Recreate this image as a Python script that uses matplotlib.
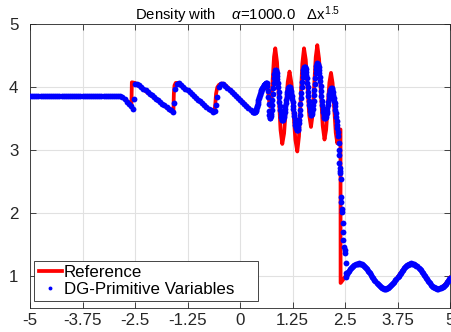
import numpy as np
import matplotlib
matplotlib.use("Agg")
import matplotlib.pyplot as plt
from matplotlib.lines import Line2D

# ---------------- data ----------------
# Reference solution (red line)
ref_x = [-5.0, -2.86, -2.80, -2.72, -2.65, -2.585, -2.575, -2.50, -1.60, -1.585,
         -1.575, -1.56, -1.53, -1.46, -0.64, -0.61, -0.59, -0.57, -0.54, -0.50,
         -0.44, -0.38, 0.22, 0.28, 0.33, 0.37, 0.40, 0.44, 0.48, 0.53,
         0.58, 0.636, 0.657, 0.679, 0.700, 0.721, 0.751, 0.781, 0.810, 0.840,
         0.882, 0.924, 0.965, 1.007, 1.050, 1.093, 1.136, 1.179, 1.225, 1.272,
         1.318, 1.364, 1.404, 1.444, 1.484, 1.524, 1.566, 1.607, 1.649, 1.690,
         1.728, 1.765, 1.803, 1.840, 1.883, 1.926, 1.969, 2.012, 2.051, 2.090,
         2.128, 2.167, 2.205, 2.242, 2.280, 2.317, 2.345, 2.370, 2.393, 2.395]
ref_y = [3.857, 3.857, 3.845, 3.80, 3.76, 3.72, 4.08, 4.07, 3.60, 3.62,
         3.90, 4.03, 4.07, 4.07, 3.60, 3.62, 3.72, 3.90, 4.00, 4.04,
         4.06, 4.055, 3.67, 3.62, 3.60, 3.62, 3.68, 3.80, 3.90, 3.98,
         4.04, 4.07, 4.014, 3.88, 3.746, 3.69, 3.826, 4.155, 4.484, 4.62,
         4.398, 3.86, 3.322, 3.10, 3.268, 3.675, 4.082, 4.25, 4.064, 3.615,
         3.166, 2.98, 3.22, 3.80, 4.38, 4.62, 4.437, 3.995, 3.553, 3.37,
         3.56, 4.02, 4.48, 4.67, 4.45, 3.92, 3.39, 3.17, 3.325, 3.70,
         4.075, 4.23, 4.066, 3.67, 3.274, 3.11, 3.25, 3.33, 3.33, 0.89]
# reference behind the shock (x = 2.40, 2.45, ..., 5.00)
ref_post_x0, ref_post_dx = 2.40, 0.05
ref_post_y = [0.893, 0.938, 0.987, 1.037, 1.084, 1.126, 1.161, 1.185, 1.198, 1.199,
              1.187, 1.164, 1.130, 1.088, 1.041, 0.992, 0.942, 0.897, 0.858, 0.827,
              0.808, 0.800, 0.805, 0.821, 0.850, 0.887, 0.932, 0.980, 1.030, 1.078,
              1.121, 1.157, 1.183, 1.197, 1.199, 1.189, 1.167, 1.135, 1.094, 1.048,
              0.998, 0.949, 0.903, 0.862, 0.831, 0.810, 0.800, 0.804, 0.819, 0.845,
              0.881, 0.925, 0.974]

# DG solution (blue dots), region A: x = -5.00 ... 0.30 step 0.05
dg_a_x0, dg_a_dx = -5.0, 0.05
dg_a_y = [3.857] * 44 + [
    3.84, 3.81, 3.77, 3.74, 3.70, 3.65, 4.05, 4.06, 4.033, 4.007,
    3.98, 3.953, 3.927, 3.90, 3.873, 3.847, 3.82, 3.793, 3.767, 3.74,
    3.713, 3.687, 3.66, 3.633, 3.607, 3.98, 4.06, 4.065, 4.036, 4.008,
    3.979, 3.95, 3.921, 3.893, 3.864, 3.835, 3.806, 3.778, 3.749, 3.72,
    3.691, 3.663, 3.634, 3.605, 3.62, 3.85, 4.01, 4.05, 4.055, 4.02,
    3.987, 3.955, 3.923, 3.892, 3.86, 3.828, 3.797, 3.765, 3.734, 3.702,
    3.67, 3.64, 3.615]
# extra DG dots inside the small jumps
dg_jump_x = [-2.525, -1.575, -0.575]
dg_jump_y = [3.82, 3.75, 3.72]

# region B (oscillations): x = 0.32 ... 2.30 step 0.01
dg_b_x0, dg_b_dx = 0.32, 0.01
dg_b_y = [
    3.605, 3.600, 3.600, 3.603, 3.610, 3.620, 3.635, 3.655, 3.680, 3.710,
    3.740, 3.770, 3.800, 3.825, 3.850, 3.875, 3.900, 3.920, 3.940, 3.955,
    3.970, 3.983, 3.995, 4.008, 4.020, 4.030, 4.040, 4.048, 4.055, 4.060,
    4.065, 4.068, 4.070,
    4.027, 3.949, 3.846, 3.734, 3.631, 3.553, 3.514,
    3.514, 3.538, 3.582, 3.644, 3.720, 3.805, 3.897, 3.987, 4.073, 4.148,
    4.208, 4.250, 4.272,
    4.273, 4.258, 4.230, 4.187, 4.132, 4.070, 4.000, 3.924, 3.847, 3.771,
    3.699, 3.634, 3.578, 3.533, 3.501, 3.484,
    3.480, 3.488, 3.505, 3.531, 3.564, 3.604, 3.649, 3.697, 3.748, 3.798,
    3.846, 3.891, 3.930, 3.962, 3.987, 4.003, 4.010,
    4.007, 3.995, 3.974, 3.945, 3.909, 3.866, 3.817, 3.766, 3.710, 3.654,
    3.598, 3.544, 3.492, 3.446, 3.405, 3.372, 3.346, 3.329, 3.320,
    3.323, 3.341, 3.376, 3.425, 3.488, 3.562, 3.645, 3.734, 3.825, 3.917,
    4.005, 4.088, 4.162, 4.225, 4.274, 4.309, 4.327,
    4.329, 4.316, 4.290, 4.251, 4.201, 4.142, 4.075, 4.004, 3.930, 3.858,
    3.788, 3.723, 3.668, 3.622, 3.588, 3.567, 3.560,
    3.570, 3.600, 3.648, 3.712, 3.790, 3.875, 3.965, 4.055, 4.142, 4.221,
    4.287, 4.336, 4.368, 4.380,
    4.374, 4.356, 4.324, 4.280, 4.225, 4.163, 4.093, 4.018, 3.941, 3.864,
    3.790, 3.721, 3.658, 3.606, 3.562, 3.532, 3.514,
    3.510, 3.517, 3.533, 3.558, 3.590, 3.629, 3.672, 3.719, 3.767, 3.814,
    3.859, 3.899, 3.934, 3.961, 3.979, 3.989,
    3.990, 3.975, 3.950, 3.920, 3.880, 3.835, 3.790, 3.745, 3.700, 3.645,
    3.590, 3.525, 3.460]

# region C (smeared main shock)
dg_c_x = [2.31, 2.32, 2.33, 2.34, 2.35, 2.357, 2.36, 2.364, 2.372, 2.381,
          2.39, 2.398, 2.405, 2.41, 2.421, 2.436, 2.445, 2.452, 2.46, 2.476,
          2.49, 2.50, 2.512, 2.524, 2.535]
dg_c_y = [3.40, 3.35, 3.29, 3.22, 3.12, 3.00, 2.92, 2.80, 2.72, 2.67,
          2.63, 2.55, 2.25, 2.18, 2.06, 2.02, 1.85, 1.70, 1.57, 1.46,
          1.41, 1.36, 1.20, 1.05, 0.99]

# region D (ahead of the shock): x = 2.55 ... 5.00 step 0.025
dg_d_x0, dg_d_dx = 2.55, 0.025
dg_d_y = [
    1.037, 1.061, 1.084, 1.106, 1.126, 1.145, 1.161, 1.174, 1.185, 1.193,
    1.198, 1.200, 1.199, 1.194, 1.187, 1.177, 1.164, 1.148, 1.130, 1.110,
    1.088, 1.065, 1.041, 1.016, 0.992, 0.967, 0.942, 0.919, 0.897, 0.877,
    0.858, 0.841, 0.827, 0.816, 0.808, 0.802, 0.800, 0.801, 0.805, 0.811,
    0.821, 0.834, 0.850, 0.867, 0.887, 0.908, 0.932, 0.956, 0.980, 1.005,
    1.030, 1.054, 1.078, 1.100, 1.121, 1.140, 1.157, 1.171, 1.183, 1.191,
    1.197, 1.200, 1.199, 1.196, 1.189, 1.180, 1.167, 1.152, 1.135, 1.116,
    1.094, 1.072, 1.048, 1.023, 0.998, 0.973, 0.949, 0.925, 0.903, 0.882,
    0.862, 0.845, 0.831, 0.819, 0.810, 0.804, 0.800, 0.800, 0.804, 0.810,
    0.819, 0.831, 0.845, 0.862, 0.881, 0.902, 0.925, 0.949, 0.974]

xticks = [-5, -3.75, -2.5, -1.25, 0, 1.25, 2.5, 3.75, 5]
xtick_labels = ["-5", "-3.75", "-2.5", "-1.25", "0", "1.25", "2.5", "3.75", "5"]
yticks = [1, 2, 3, 4, 5]
ytick_labels = ["1", "2", "3", "4", "5"]
legend_labels = ["Reference", "DG-Primitive Variables    "]
title_text = r"Density with    $\alpha$=1000.0   $\Delta\mathrm{x}^{1.5}$"

# ---------------- assemble ----------------
ref_post_x = ref_post_x0 + ref_post_dx * np.arange(len(ref_post_y))
rx = np.concatenate([ref_x, ref_post_x])
ry = np.concatenate([ref_y, ref_post_y])

dx_all = np.concatenate([
    dg_a_x0 + dg_a_dx * np.arange(len(dg_a_y)),
    dg_jump_x,
    dg_b_x0 + dg_b_dx * np.arange(len(dg_b_y)),
    dg_c_x,
    dg_d_x0 + dg_d_dx * np.arange(len(dg_d_y)),
])
dy_all = np.concatenate([dg_a_y, dg_jump_y, dg_b_y, dg_c_y, dg_d_y])

plt.rcParams['font.family'] = ['Liberation Sans', 'DejaVu Sans']
plt.rcParams['mathtext.fontset'] = 'custom'
plt.rcParams['mathtext.rm'] = 'Liberation Sans'
plt.rcParams['mathtext.it'] = 'Liberation Sans:italic'
plt.rcParams['mathtext.bf'] = 'Liberation Sans:bold'

W, H = 451, 332
fig = plt.figure(figsize=(W / 100, H / 100), dpi=100)
ax = fig.add_axes([30 / W, (H - 307.5) / H, 420 / W, 283.1 / H])

ax.plot(rx, ry, color='red', lw=2.7, solid_joinstyle='round', zorder=2)
ax.plot(dx_all, dy_all, linestyle='none', marker='o', color='blue',
        ms=4.2, mew=0, zorder=3)

ax.set_xlim(-5, 5)
ax.set_ylim(0.5, 5)
ax.set_xticks(xticks)
ax.set_xticklabels(xtick_labels)
ax.set_yticks(yticks)
ax.set_yticklabels(ytick_labels)
dark = '#262626'
ax.tick_params(direction='in', top=True, right=True, length=4, width=0.6,
               labelsize=12.2, colors=dark)
ax.tick_params(axis='y', pad=8.3)
ax.tick_params(axis='x', pad=3.8)
for s in ax.spines.values():
    s.set_color(dark)
    s.set_linewidth(0.6)
ax.grid(True, color='#e1e1e1', lw=0.8)
ax.set_axisbelow(True)

fig.text(238 / W, (H - 20) / H, title_text, ha='center', va='baseline',
         fontsize=10.7, color='black')

handles = [Line2D([], [], color='red', lw=2.7),
           Line2D([], [], linestyle='none', marker='o', color='blue', ms=2.8, mew=0)]
leg = ax.legend(handles, legend_labels, loc='lower left',
                bbox_to_anchor=(4.3 / 420, 6.5 / 283.1), borderaxespad=0,
                fontsize=12.2, frameon=True, fancybox=False, framealpha=1,
                edgecolor=dark, handlelength=1.4, handletextpad=0.1,
                borderpad=0.25, labelspacing=0.1)
leg.get_frame().set_linewidth(0.6)

fig.savefig("out.png", dpi=100)
